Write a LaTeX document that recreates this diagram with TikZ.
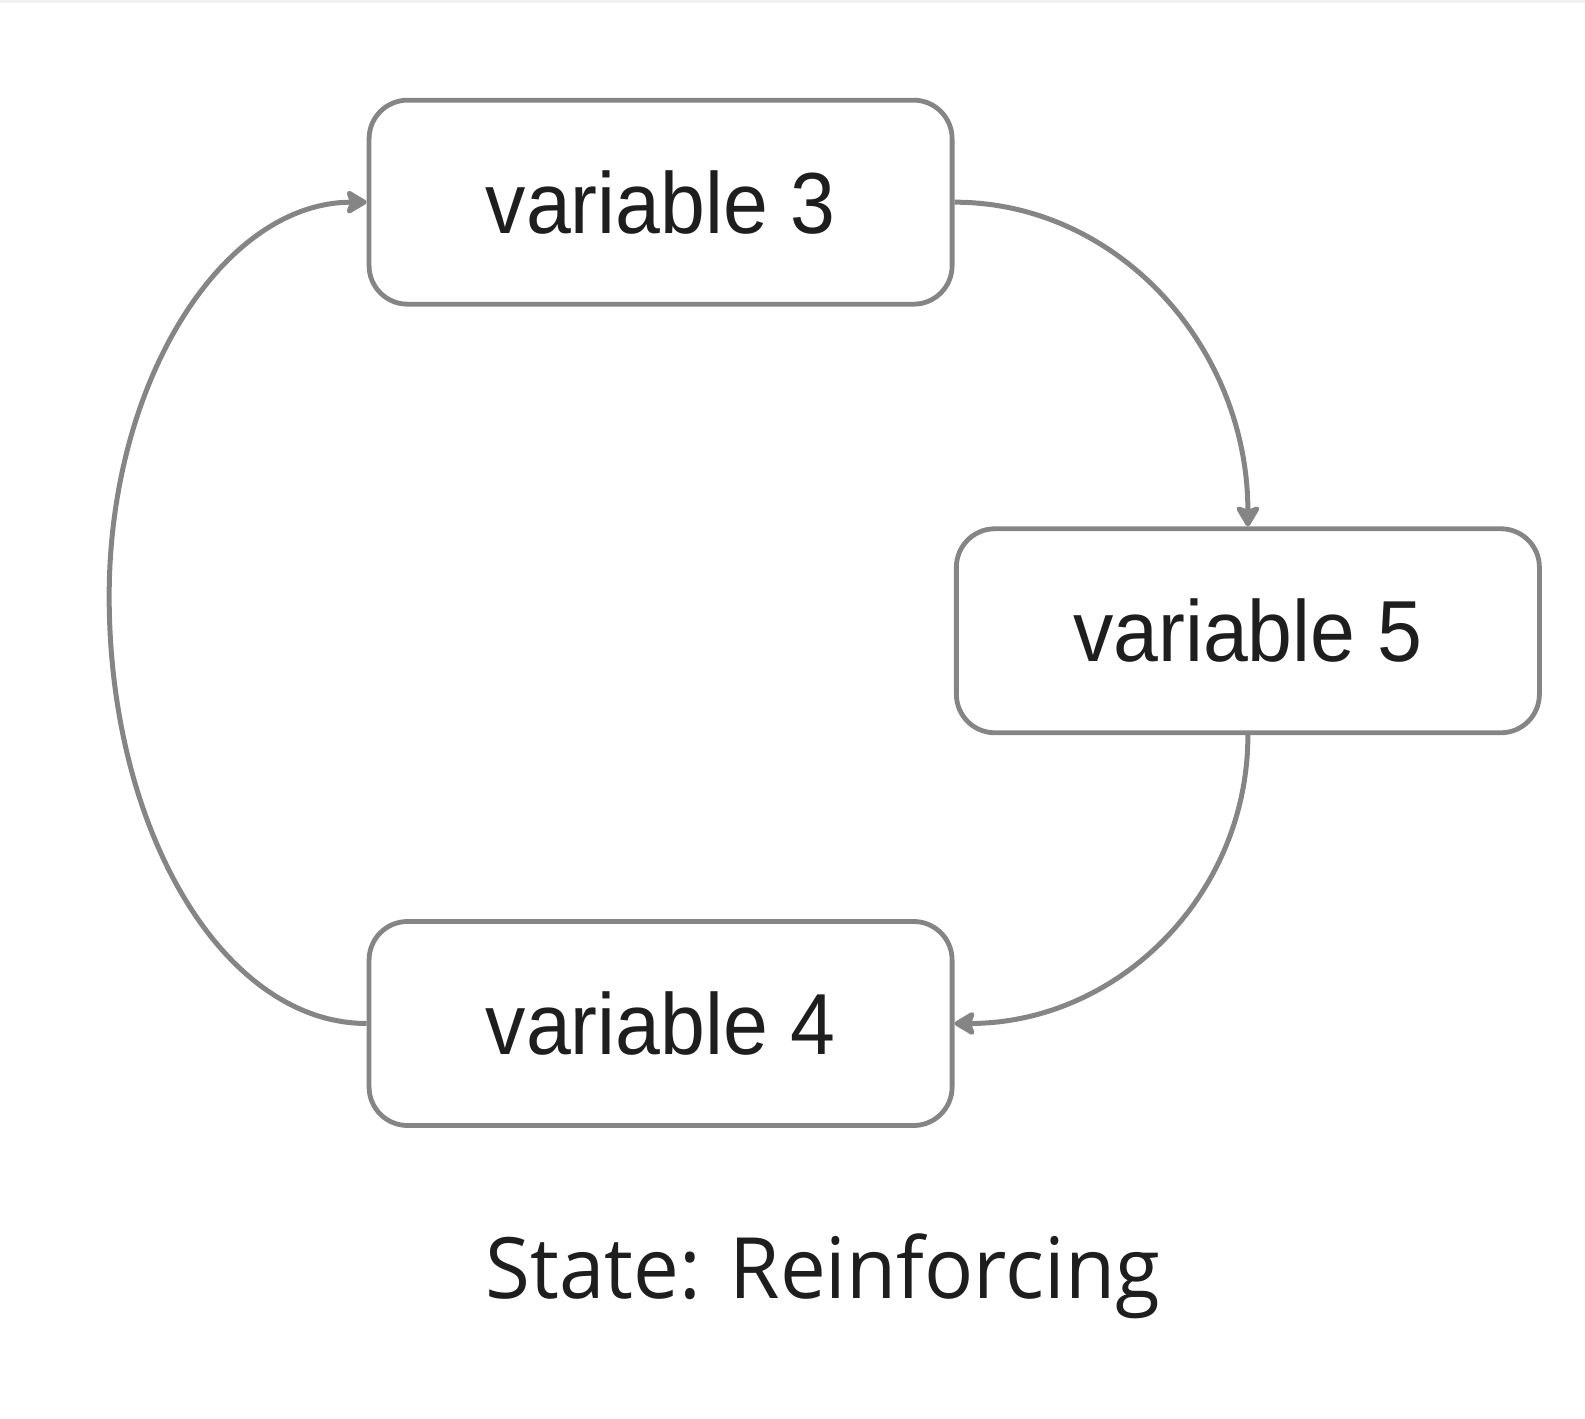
\documentclass[tikz,border=0pt]{standalone}
\usepackage{fontspec}
\setmainfont{Liberation Sans}
\newfontfamily\capfont{Open Sans}
\usetikzlibrary{arrows.meta}
\definecolor{edgegray}{HTML}{858585}
\definecolor{txt}{HTML}{1E1E1E}
\begin{document}
\begin{tikzpicture}[x=1.0108bp,y=-1.0108bp,
  varbox/.style={draw=edgegray, line width=4.8bp, rounded corners=38.5bp,
    minimum width=583bp, minimum height=204bp, inner sep=0pt,
    text=txt, font=\fontsize{87}{90}\selectfont},
  link/.style={draw=edgegray, line width=5bp,
    -{Stealth[length=24bp,width=28bp,inset=5bp,round]}}]
\useasboundingbox (0,0) rectangle (1568,1402.8);
\fill[black!6] (0,0) rectangle (1568,2.5);
\node[varbox] (v3) at (653.5,200) {\scalebox{0.93}[1]{variable 3}};
\node[varbox] (v5) at (1234.5,624) {\scalebox{0.93}[1]{variable 5}};
\node[varbox] (v4) at (653.5,1012.5) {\scalebox{0.93}[1]{variable 4}};
\node[text=txt, font=\capfont\fontsize{85}{90}\selectfont, anchor=base] (cap) at (814,1285) {\scalebox{0.965}[1]{State: Reinforcing}};
\coordinate (lft) at (108,590);
\draw[link] (v3.east) .. controls +(162,0) and +(0,-177) .. (v5.north);
\draw[link] (v5.south) .. controls +(0,159) and +(161,0) .. (v4.east);
\draw[link] (v4.west) .. controls +(-141,0) and +(0,233) .. (lft)
  .. controls +(0,-215) and +(-141,0) .. (v3.west);
\end{tikzpicture}
\end{document}
